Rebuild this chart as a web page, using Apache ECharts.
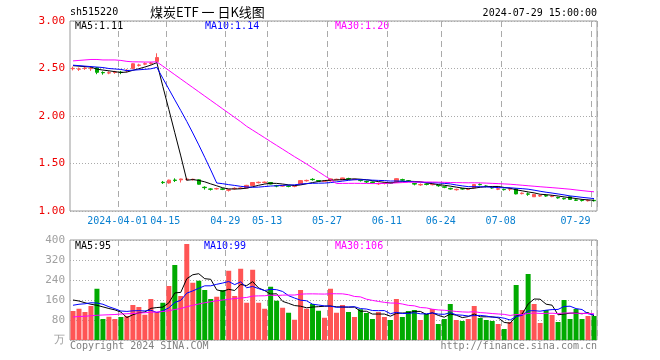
<!DOCTYPE html>
<html><head><meta charset="utf-8">
<script src="https://cdn.jsdelivr.net/npm/echarts@6/dist/echarts.min.js"></script>
<style>html,body{margin:0;padding:0;background:#fff}#c{width:660px;height:360px}</style>
</head><body><div id="c"></div>
<script>
// ---------- data ----------
const dates = [
'2024-03-20','2024-03-21','2024-03-22','2024-03-25','2024-03-26','2024-03-27','2024-03-28','2024-03-29',
'2024-04-01','2024-04-02','2024-04-03','2024-04-08','2024-04-09','2024-04-10','2024-04-11','2024-04-12',
'2024-04-15','2024-04-16','2024-04-17','2024-04-18','2024-04-19','2024-04-22','2024-04-23','2024-04-24',
'2024-04-25','2024-04-26','2024-04-29','2024-04-30','2024-05-06','2024-05-07','2024-05-08','2024-05-09',
'2024-05-10','2024-05-13','2024-05-14','2024-05-15','2024-05-16','2024-05-17','2024-05-20','2024-05-21',
'2024-05-22','2024-05-23','2024-05-24','2024-05-27','2024-05-28','2024-05-29','2024-05-30','2024-05-31',
'2024-06-03','2024-06-04','2024-06-05','2024-06-06','2024-06-07','2024-06-11','2024-06-12','2024-06-13',
'2024-06-14','2024-06-17','2024-06-18','2024-06-19','2024-06-20','2024-06-21','2024-06-24','2024-06-25',
'2024-06-26','2024-06-27','2024-06-28','2024-07-01','2024-07-02','2024-07-03','2024-07-04','2024-07-05',
'2024-07-08','2024-07-09','2024-07-10','2024-07-11','2024-07-12','2024-07-15','2024-07-16','2024-07-17',
'2024-07-18','2024-07-19','2024-07-22','2024-07-23','2024-07-24','2024-07-25','2024-07-26','2024-07-29'];

const opens = [
2.498,2.492,2.500,2.498,2.507,2.458,2.452,2.458,2.462,2.476,2.500,2.533,2.546,2.553,2.575,
1.302,1.295,1.326,1.328,1.333,1.330,1.328,1.250,1.232,1.233,1.232,1.219,1.235,1.238,1.243,
1.268,1.298,1.300,1.300,1.266,1.262,1.263,1.260,1.285,1.318,1.333,1.321,1.312,1.318,1.330,
1.328,1.340,1.330,1.324,1.310,1.305,1.286,1.290,1.296,1.306,1.330,1.318,1.290,1.275,1.285,
1.277,1.270,1.255,1.238,1.224,1.235,1.229,1.243,1.280,1.263,1.246,1.230,1.228,1.230,1.233,
1.183,1.180,1.150,1.158,1.162,1.152,1.142,1.132,1.150,1.116,1.113,1.108,1.112];
const closes = [
2.502,2.496,2.505,2.502,2.460,2.455,2.456,2.462,2.458,2.481,2.550,2.537,2.551,2.558,2.615,
1.299,1.325,1.322,1.337,1.336,1.334,1.282,1.246,1.229,1.236,1.229,1.223,1.239,1.242,1.270,
1.300,1.302,1.304,1.284,1.263,1.266,1.260,1.264,1.320,1.322,1.330,1.315,1.316,1.338,1.334,
1.348,1.337,1.333,1.320,1.306,1.300,1.290,1.294,1.292,1.340,1.325,1.315,1.283,1.279,1.280,
1.281,1.266,1.250,1.232,1.228,1.232,1.233,1.278,1.277,1.260,1.243,1.234,1.225,1.234,1.180,
1.188,1.177,1.175,1.162,1.158,1.156,1.138,1.128,1.122,1.113,1.110,1.112,1.108];
const lows = [
2.480,2.475,2.485,2.475,2.440,2.435,2.440,2.445,2.440,2.460,2.495,2.520,2.535,2.540,2.570,
1.285,1.288,1.305,1.300,1.320,1.320,1.278,1.225,1.215,1.225,1.220,1.205,1.225,1.230,1.240,
1.265,1.290,1.290,1.280,1.250,1.255,1.250,1.250,1.280,1.310,1.320,1.310,1.305,1.310,1.325,
1.325,1.325,1.325,1.310,1.295,1.290,1.275,1.280,1.285,1.300,1.315,1.305,1.270,1.265,1.270,
1.270,1.255,1.240,1.225,1.215,1.225,1.220,1.240,1.270,1.250,1.235,1.220,1.215,1.210,1.175,
1.175,1.160,1.148,1.150,1.150,1.145,1.130,1.120,1.118,1.105,1.100,1.100,1.100];
const highs = [
2.520,2.510,2.520,2.525,2.515,2.470,2.470,2.475,2.475,2.495,2.555,2.550,2.565,2.570,2.660,
1.316,1.330,1.344,1.340,1.345,1.340,1.332,1.260,1.240,1.245,1.240,1.230,1.250,1.250,1.275,
1.305,1.310,1.310,1.305,1.275,1.275,1.270,1.270,1.325,1.330,1.345,1.325,1.325,1.342,1.340,
1.350,1.350,1.340,1.330,1.320,1.310,1.300,1.300,1.300,1.345,1.340,1.325,1.295,1.290,1.290,
1.290,1.275,1.260,1.245,1.235,1.240,1.240,1.280,1.290,1.270,1.255,1.240,1.235,1.240,1.235,
1.195,1.195,1.178,1.170,1.170,1.165,1.150,1.140,1.152,1.125,1.120,1.120,1.120];

const volumes = [
116,125,112,136,205,84,93,84,92,96,140,132,101,164,112,
149,216,300,176,384,229,237,200,164,173,200,277,176,285,149,281,149,125,213,157,129,109,81,200,125,144,117,89,205,
109,140,112,92,123,108,84,112,92,80,164,92,116,120,80,104,124,64,84,144,80,76,84,136,88,80,76,64,44,72,
220,120,264,144,68,120,100,72,160,84,124,84,96,96];

const priceMA5Early  = [2.530,2.525,2.520,2.515];
const priceMA10Early = [2.535,2.530,2.525,2.520,2.515,2.510,2.500,2.495,2.490];
const priceMA30Early = [2.580,2.585,2.590,2.595,2.595,2.590,2.590,2.590,2.585,2.575,2.570,2.570,2.568,2.568,2.570,
                        2.525,2.480,2.435,2.390,2.345,2.300,2.255,2.210,2.165,2.120,2.075,2.030,1.985,1.940];
const volMA5Early  = [160,156,149,143];
const volMA10Early = [139,143,145,149,148,143,133,125,116];
const volMA30Early = [92,94,95,97,99,100,101,102,104,105,106,108,109,111,112,114,117,122,126,133,139,144,149,153,157,160,163,166,168];

const tickDates = ['2024-04-01','2024-04-15','2024-04-29','2024-05-13','2024-05-27','2024-06-11','2024-06-24','2024-07-08','2024-07-29'];
const priceLegend = ['MA5:1.11','MA10:1.14','MA30:1.20'];
const volLegend = ['MA5:95','MA10:99','MA30:106'];

// ---------- build ----------
function movingAvg(src, n, early) {
  return src.map((v, i) => {
    if (i < n - 1) return early[i];
    let s = 0;
    for (let k = i - n + 1; k <= i; k++) s += src[k];
    return +(s / n).toFixed(4);
  });
}
const RED = '#ff5555', GREEN = '#00aa00';
const MONO = 'DejaVu Sans Mono';
const candleData = dates.map((d, i) => [opens[i], closes[i], lows[i], highs[i]]);
const volData = volumes.map((v, i) => ({ value: v, itemStyle: { color: closes[i] >= opens[i] ? RED : GREEN } }));
const isTick = (i) => tickDates.indexOf(dates[i]) >= 0;
const lastTick = tickDates.length - 1;

const chart = echarts.init(document.getElementById('c'), null, { renderer: 'canvas' });
const splitLineCfg = { show: true, interval: (i) => isTick(i), lineStyle: { color: '#aaaaaa', type: [6, 4], width: 1 } };
const dotted = { show: true, lineStyle: { color: '#aaaaaa', type: [1, 2], width: 1 } };
const txt = (text, x, y, fill, align, font) => ({
  type: 'text', x: x, y: y, silent: true,
  style: { text: text, fill: fill, font: font || ('10px ' + MONO), textAlign: align || 'left', textVerticalAlign: 'middle', align: align || 'left', verticalAlign: 'middle' }
});

chart.setOption({
  animation: false,
  backgroundColor: '#ffffff',
  grid: [
    { left: 70, top: 21, width: 527, height: 190, show: true, borderColor: '#999999', borderWidth: 1, backgroundColor: 'transparent' },
    { left: 70, top: 240, width: 527, height: 100, show: true, borderColor: '#999999', borderWidth: 1, backgroundColor: 'transparent' }
  ],
  xAxis: [
    { type: 'category', gridIndex: 0, data: dates, boundaryGap: true,
      axisLine: { show: false }, axisTick: { show: false },
      axisLabel: { interval: (i) => isTick(i), color: '#0a80d0', fontFamily: MONO, fontSize: 10, margin: 5,
        formatter: (v) => {
          const k = tickDates.indexOf(v);
          const t = k === 0 ? v : v.slice(5);
          return k === lastTick ? '{e|' + t + '}' : '{n|' + t + '}';
        },
        rich: { n: { padding: [0, 7, 0, 0], color: '#0a80d0', fontFamily: MONO, fontSize: 10 },
                e: { padding: [0, 37, 0, 0], color: '#0a80d0', fontFamily: MONO, fontSize: 10 } } },
      splitLine: splitLineCfg },
    { type: 'category', gridIndex: 1, data: dates, boundaryGap: true,
      axisLine: { show: false }, axisTick: { show: false }, axisLabel: { show: false },
      splitLine: splitLineCfg }
  ],
  yAxis: [
    { type: 'value', gridIndex: 0, min: 1, max: 3, interval: 0.5,
      axisLine: { show: false }, axisTick: { show: false },
      axisLabel: { color: '#ee0000', fontFamily: MONO, fontSize: 11, margin: 5, formatter: (v) => v.toFixed(2) },
      splitLine: dotted },
    { type: 'value', gridIndex: 1, min: 0, max: 400, interval: 80,
      axisLine: { show: false }, axisTick: { show: false },
      axisLabel: { color: '#a0a0a0', fontFamily: MONO, fontSize: 11, margin: 5, formatter: (v) => v === 0 ? '万' : String(v) },
      splitLine: dotted }
  ],
  series: [
    { type: 'candlestick', xAxisIndex: 0, yAxisIndex: 0, data: candleData, barWidth: 4,
      itemStyle: { color: RED, color0: GREEN, borderColor: RED, borderColor0: GREEN, borderWidth: 1 } },
    { type: 'line', xAxisIndex: 0, yAxisIndex: 0, data: movingAvg(closes, 5, priceMA5Early), symbol: 'none', lineStyle: { width: 1, color: '#000000' }, silent: true },
    { type: 'line', xAxisIndex: 0, yAxisIndex: 0, data: movingAvg(closes, 10, priceMA10Early), symbol: 'none', lineStyle: { width: 1, color: '#0000ff' }, silent: true },
    { type: 'line', xAxisIndex: 0, yAxisIndex: 0, data: movingAvg(closes, 30, priceMA30Early), symbol: 'none', lineStyle: { width: 1, color: '#ff00ff' }, silent: true },
    { type: 'bar', xAxisIndex: 1, yAxisIndex: 1, data: volData, barWidth: 5 },
    { type: 'line', xAxisIndex: 1, yAxisIndex: 1, data: movingAvg(volumes, 5, volMA5Early), symbol: 'none', lineStyle: { width: 1, color: '#000000' }, silent: true },
    { type: 'line', xAxisIndex: 1, yAxisIndex: 1, data: movingAvg(volumes, 10, volMA10Early), symbol: 'none', lineStyle: { width: 1, color: '#0000ff' }, silent: true },
    { type: 'line', xAxisIndex: 1, yAxisIndex: 1, data: movingAvg(volumes, 30, volMA30Early), symbol: 'none', lineStyle: { width: 1, color: '#ff00ff' }, silent: true }
  ],
  graphic: [
    txt('sh515220', 70, 12.5, '#000000'),
    txt('煤炭ETF 一 日K线图', 150, 12, '#000000', 'left', '13px "Noto Sans CJK SC"'),
    txt('2024-07-29 15:00:00', 597, 13, '#000000', 'right'),
    txt(priceLegend[0], 75, 26.5, '#000000'),
    txt(priceLegend[1], 205, 26.5, '#0000ff'),
    txt(priceLegend[2], 335, 26.5, '#ff00ff'),
    txt(volLegend[0], 75, 246.5, '#000000'),
    txt(volLegend[1], 204, 246.5, '#0000ff'),
    txt(volLegend[2], 335, 246.5, '#ff00ff'),
    txt('Copyright 2024 SINA.COM', 70, 346, '#808080'),
    txt('http://finance.sina.com.cn', 597, 346, '#808080', 'right')
  ]
});
</script></body></html>
